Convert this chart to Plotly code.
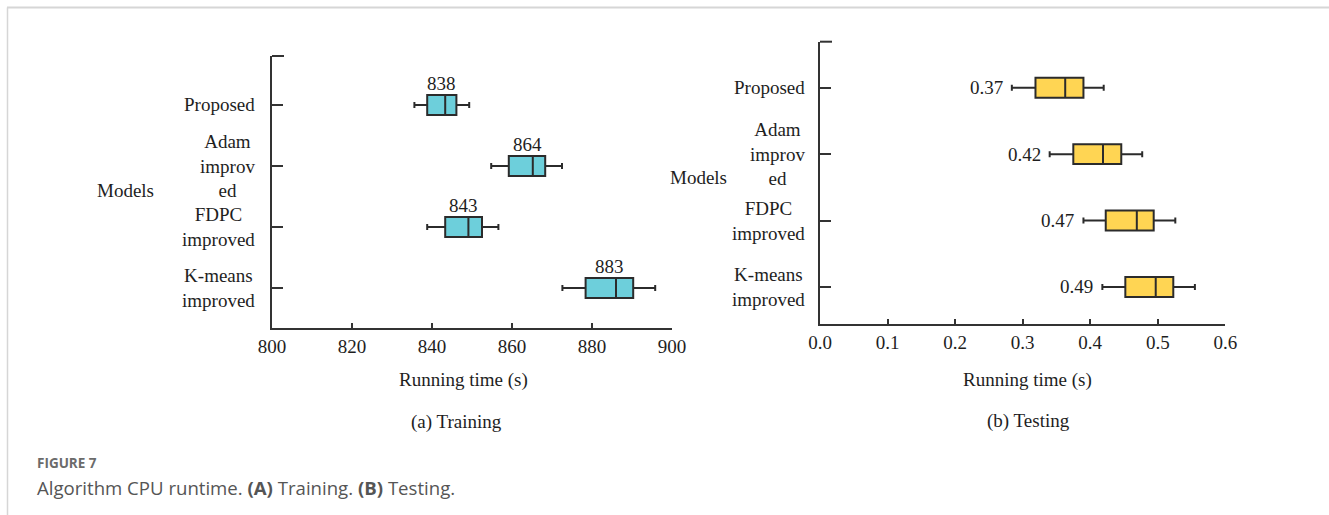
import plotly.graph_objects as go

W, H = 1329, 515

# Model names (top to bottom) and their tick labels
models = ["Proposed", "Adam improved", "FDPC improved", "K-means improved"]
model_labels = ["Proposed", "Adam<br>improv<br>ed", "FDPC<br>improved", "K-means<br>improved"]

# Training running time (s): box statistics
train_low = [835.6, 854.8, 838.8, 872.6]
train_q1 = [838.8, 859.2, 843.3, 878.4]
train_med = [843.3, 865.2, 849.1, 886.0]
train_q3 = [846.1, 868.3, 852.5, 890.3]
train_high = [849.3, 872.5, 856.6, 895.8]
train_mean = [838, 864, 843, 883]

# Testing running time (s): box statistics
test_low = [0.284, 0.340, 0.390, 0.418]
test_q1 = [0.319, 0.375, 0.423, 0.452]
test_med = [0.363, 0.419, 0.469, 0.497]
test_q3 = [0.390, 0.446, 0.494, 0.523]
test_high = [0.420, 0.477, 0.526, 0.555]
test_mean = [0.37, 0.42, 0.47, 0.49]

train_ticks = [800, 820, 840, 860, 880, 900]
test_ticks = [0.0, 0.1, 0.2, 0.3, 0.4, 0.5, 0.6]

SERIF = "Liberation Serif, Times New Roman, serif"
SANS = "Open Sans, Noto Sans, sans-serif"
INK = "#1e1e1e"
AXIS = "#333333"


def px(x):
    return x / W


def py(y):
    return 1 - y / H


fig = go.Figure()

fig.add_trace(go.Box(
    y=models, q1=train_q1, median=train_med, q3=train_q3,
    lowerfence=train_low, upperfence=train_high,
    orientation="h", width=0.33, whiskerwidth=0.3,
    fillcolor="#6dcfdb", line=dict(color="#2b2b2b", width=2),
    boxpoints=False, hoverinfo="skip", xaxis="x", yaxis="y",
))
fig.add_trace(go.Box(
    y=models, q1=test_q1, median=test_med, q3=test_q3,
    lowerfence=test_low, upperfence=test_high,
    orientation="h", width=0.30, whiskerwidth=0.3,
    fillcolor="#ffd553", line=dict(color="#2b2b2b", width=2),
    boxpoints=False, hoverinfo="skip", xaxis="x2", yaxis="y2",
))

# Panel geometry (pixels)
L = dict(x0=272, x1=672, y0=56, y1=328)
R = dict(x0=820, x1=1225.3, y0=41.7, y1=324.3)

common_x = dict(
    showline=True, linecolor=AXIS, linewidth=2, mirror=False,
    ticks="inside", ticklen=5, tickwidth=1.6, tickcolor=AXIS,
    showgrid=False, zeroline=False, automargin=False,
    tickfont=dict(family=SERIF, size=19, color=INK),
    fixedrange=True,
)
common_y = dict(
    type="category", showline=True, linecolor=AXIS, linewidth=2,
    ticks="inside", ticklen=11, tickwidth=1.6, tickcolor=AXIS,
    showgrid=False, zeroline=False, showticklabels=False, automargin=False,
    categoryorder="array", categoryarray=models, fixedrange=True,
)

fig.update_layout(
    width=W, height=H,
    margin=dict(l=0, r=0, t=0, b=0, pad=0, autoexpand=False),
    paper_bgcolor="white", plot_bgcolor="white",
    showlegend=False,
    xaxis=dict(domain=[px(L["x0"]), px(L["x1"])], range=[800, 900],
               tickvals=train_ticks, anchor="y", **common_x),
    yaxis=dict(domain=[py(L["y1"]), py(L["y0"])], range=[3.656, -0.803],
               anchor="x", **common_y),
    xaxis2=dict(domain=[px(R["x0"]), px(R["x1"])], range=[0, 0.6],
                tickvals=test_ticks, tickformat=".1f", anchor="y2", **common_x),
    yaxis2=dict(domain=[py(R["y1"]), py(R["y0"])], range=[3.562, -0.693],
                anchor="x2", **common_y),
)

ann = []

# Category labels, centred multi-line text to the left of each axis
for name, lab in zip(models, model_labels):
    ann.append(dict(x=px(257), xref="paper", y=name, yref="y", text=lab,
                    xanchor="right", yanchor="middle", align="center",
                    showarrow=False, font=dict(family=SERIF, size=19, color=INK)))
    ann.append(dict(x=px(807), xref="paper", y=name, yref="y2", text=lab,
                    xanchor="right", yanchor="middle", align="center",
                    showarrow=False, font=dict(family=SERIF, size=19, color=INK)))

# Value labels: above each training box, left of each testing box
for name, q1, q3, m in zip(models, train_q1, train_q3, train_mean):
    ann.append(dict(x=(q1 + q3) / 2, xref="x", y=name, yref="y", text=f"{m}",
                    xanchor="center", yanchor="middle", yshift=21,
                    showarrow=False, font=dict(family=SERIF, size=19, color=INK)))
for name, lo, m in zip(models, test_low, test_mean):
    ann.append(dict(x=lo, xref="x2", y=name, yref="y2", text=f"{m:.2f}",
                    xanchor="right", yanchor="middle", xshift=-7,
                    showarrow=False, font=dict(family=SERIF, size=19, color=INK)))

# Axis titles and panel captions
def txt(x, y, s, size=19, family=SERIF, color=INK, xanchor="center"):
    return dict(x=px(x), y=py(y), xref="paper", yref="paper", text=s,
                xanchor=xanchor, yanchor="middle", showarrow=False,
                font=dict(family=family, size=size, color=color))

ann += [
    txt(125, 190, "Models"),
    txt(699, 177, "Models"),
    txt(463, 380, "Running time (s)"),
    txt(1027, 380, "Running time (s)"),
    txt(456, 422, "(a) Training"),
    txt(1028, 421, "(b) Testing"),
    txt(35, 463, "<b>FIGURE 7</b>", size=13.5, family=SANS, color="#6b6b6b", xanchor="left"),
    txt(35, 487, "Algorithm CPU runtime. <b>(A)</b> Training. <b>(B)</b> Testing.",
        size=18.6, family=SANS, color="#555555", xanchor="left"),
]
fig.update_layout(annotations=ann)

# Axis end caps and the page frame
shapes = [
    dict(type="line", xref="paper", yref="paper", x0=px(L["x0"]), x1=px(L["x0"] + 12),
         y0=py(L["y0"]), y1=py(L["y0"]), line=dict(color=AXIS, width=2)),
    dict(type="line", xref="paper", yref="paper", x0=px(R["x0"]), x1=px(R["x0"] + 12),
         y0=py(R["y0"]), y1=py(R["y0"]), line=dict(color=AXIS, width=2)),
    dict(type="line", xref="paper", yref="paper", x0=px(7), x1=1,
         y0=py(7.5), y1=py(7.5), line=dict(color="#d6d6d6", width=2)),
    dict(type="line", xref="paper", yref="paper", x0=px(7.5), x1=px(7.5),
         y0=py(7.5), y1=0, line=dict(color="#d6d6d6", width=1.5)),
]
fig.update_layout(shapes=shapes)

fig.write_html("out.html", config={"displayModeBar": False})
